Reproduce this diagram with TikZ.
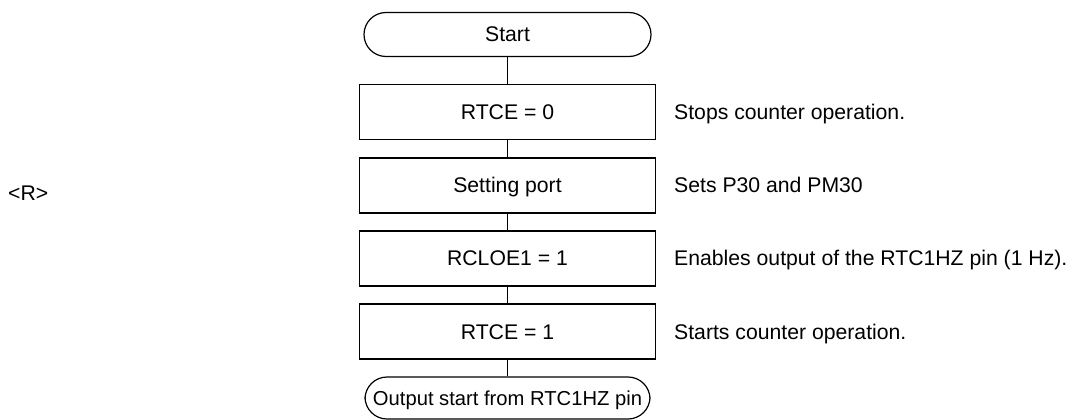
\documentclass[tikz,border=0pt]{standalone}
\usepackage{fontspec}
\setmainfont{Liberation Sans}
\usepackage{tikz}
\usetikzlibrary{positioning}

\begin{document}
\begin{tikzpicture}[x=1pt, y=-1pt,
  termbox/.style={draw=black, line width=1.2pt, rounded corners=22pt, minimum width=287pt, minimum height=44pt, inner sep=0pt, font=\fontsize{21.2}{25}\selectfont, text height=15pt, text depth=0pt},
  procbox/.style={draw=black, line width=1.6pt, minimum width=296pt, minimum height=55pt, inner sep=0pt, font=\fontsize{21.2}{25}\selectfont, text height=15pt, text depth=0pt},
  notetext/.style={anchor=west, inner sep=0pt, font=\fontsize{21.2}{25}\selectfont, text height=15pt, text depth=0pt},
  flowline/.style={draw=black, line width=0.9pt},
]
\useasboundingbox (0,0) rectangle (1073,420);
% terminators
\node[termbox] (start) at (507.5,34.5) {Start};
\node[termbox, minimum width=285pt, minimum height=42pt, font=\fontsize{20.2}{24}\selectfont] (outstart) at (507.5,398) {Output start from RTC1HZ pin};
% process boxes with side notes
\foreach \i/\y/\txt/\note in {%
  1/112/{RTCE = 0}/{Stops counter operation.},
  2/185.2/{Setting port}/{Sets P30 and PM30},
  3/258.4/{RCLOE1 = 1}/{Enables output of the RTC1HZ pin (1 Hz).},
  4/331.6/{RTCE = 1}/{Starts counter operation.}%
} {
  \node[procbox] (step\i) at (507.5,\y) {\txt};
  \node[notetext] (note\i) at (674,\y) {\note};
}
% flow lines
\draw[flowline] (start.south) -- (step1.north);
\draw[flowline] (step1.south) -- (step2.north);
\draw[flowline] (step2.south) -- (step3.north);
\draw[flowline] (step3.south) -- (step4.north);
\draw[flowline] (step4.south) -- (outstart.north);
% revision mark
\node[notetext] (revmark) at (8,193) {<R>};
\end{tikzpicture}
\end{document}
